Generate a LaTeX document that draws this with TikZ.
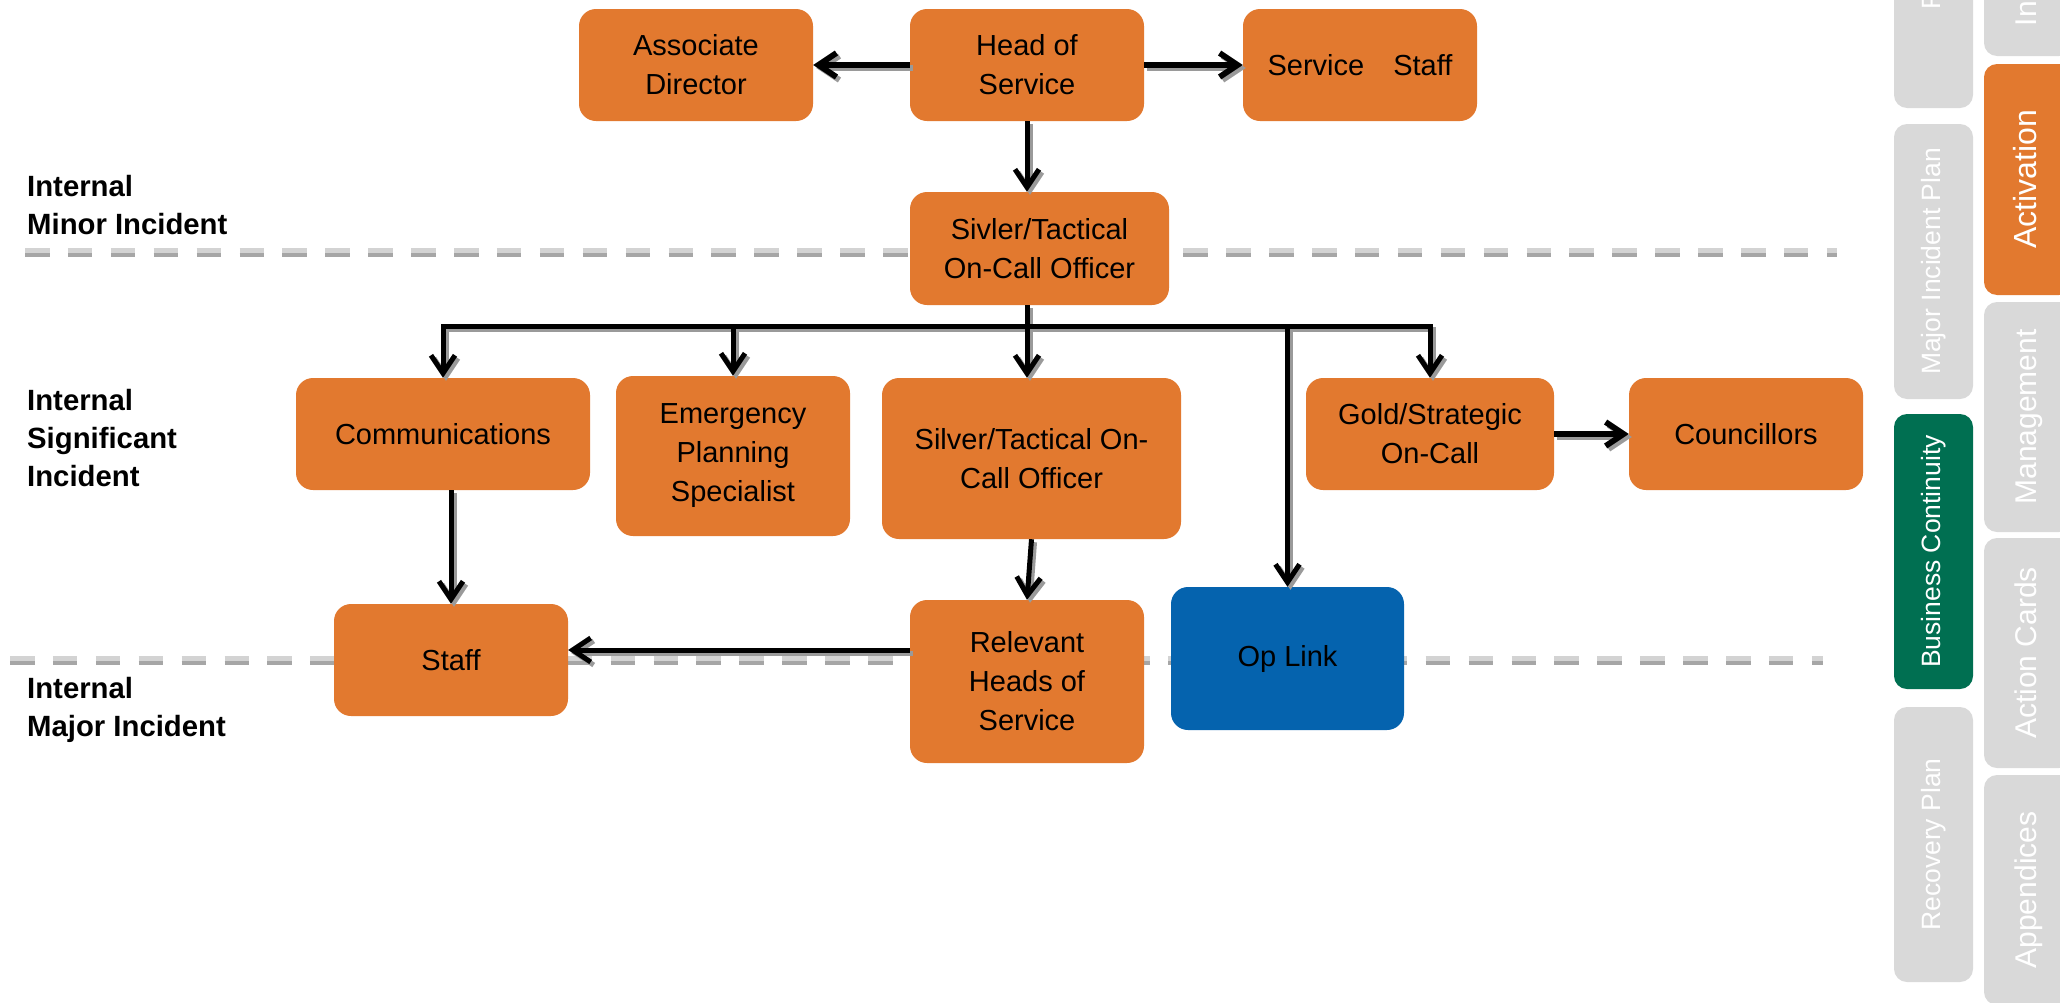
\documentclass[tikz,border=0pt]{standalone}
\usepackage{fontspec}
\setmainfont{Liberation Sans}
\usetikzlibrary{arrows.meta}

\definecolor{boxorange}{HTML}{E2792F}
\definecolor{linkblue}{HTML}{0563AE}
\definecolor{bcgreen}{HTML}{006F51}
\definecolor{tabgray}{HTML}{D9D9D9}
\definecolor{dashlight}{HTML}{D3D3D3}
\definecolor{dashdark}{HTML}{A6A6A6}
\definecolor{shadowgray}{HTML}{9A9A9A}

\begin{document}
\begin{tikzpicture}[x=1pt,y=-1pt,>={Straight Barb[length=18pt,width=24pt]},
  box/.style={rectangle,rounded corners=17pt,fill=boxorange,inner sep=0pt,align=center,
    font=\fontsize{29}{39}\selectfont},
  std/.style={minimum width=234pt,minimum height=112pt},
  level/.style={anchor=north west,inner sep=0pt,align=left,font=\bfseries\fontsize{29.3}{38}\selectfont},
  tab/.style={rectangle,rounded corners=13pt,fill=tabgray,text=white,inner sep=0pt,rotate=90},
  tabnarrow/.style={tab,minimum height=79pt,text height=19pt,text depth=5.5pt,font=\fontsize{26.5}{30}\selectfont},
  tabwide/.style={tab,minimum height=88pt,text height=22pt,text depth=6pt,font=\fontsize{30}{34}\selectfont},
  conn/.style={line width=5pt,->},
  bigconn/.style={conn,line width=5.8pt},
  sepline/.style={line width=4.5pt,dash pattern=on 24.5pt off 18.4pt}]
\useasboundingbox (0,0) rectangle (2060,1002);
\clip (0,0) rectangle (2060,1002);
% ---------- level separators ----------
\draw[sepline,dashlight] (25,250.5) -- (1837,250.5);
\draw[sepline,dashdark] (25,255) -- (1837,255);
\draw[sepline,dashlight] (10,658.5) -- (1823,658.5);
\draw[sepline,dashdark] (10,663) -- (1823,663);
% ---------- level labels ----------
\node[level] (minor) at (27,175) {Internal\\Minor Incident};
\node[level] (signif) at (27,389) {Internal\\Significant\\Incident};
\node[level] (major) at (27,677) {Internal\\Major Incident};
% ---------- boxes ----------
\node[box,std] (head) at (1027,65) {Head of\\Service};
\node[box,std] (assoc) at (696,65) {Associate\\Director};
\node[box,std] (sstaff) at (1360,65) {Service\hspace{1em}Staff};
\node[box,minimum width=259pt,minimum height=113pt] (sivler) at (1039.5,248.5) {Sivler/Tactical\\On-Call Officer};
\node[box,minimum width=294pt,minimum height=112pt] (comm) at (443,434) {Communications};
\node[box,minimum width=234pt,minimum height=160pt] (eps) at (733,456) {Emergency\\Planning\\Specialist};
\node[box,minimum width=299pt,minimum height=161pt] (silver) at (1031.5,458.5) {Silver/Tactical On-\\Call Officer};
\node[box,minimum width=248pt,minimum height=112pt] (gold) at (1430,434) {Gold/Strategic\\On-Call};
\node[box,std] (counc) at (1746,434) {Councillors};
\node[box,std] (staff) at (451,660) {Staff};
\node[box,minimum width=234pt,minimum height=163pt] (rhos) at (1027,681.5) {Relevant\\Heads of\\Service};
\node[box,fill=linkblue,minimum width=233pt,minimum height=143pt] (oplink) at (1287.5,658.5) {Op Link};
% ---------- connectors: grey shadow pass, then black ----------
\foreach \ink/\off in {shadowgray/3pt,black/0pt}{
\begin{scope}[transform canvas={xshift=\off,yshift=-\off},conn/.append style={draw=\ink}]
\draw[bigconn] (head.west) -- (assoc.east);
\draw[bigconn] (head.east) -- (sstaff.west);
\draw[conn] (head.south) -- (head.south |- sivler.north);
% bus under the on-call officer
\coordinate (bus) at (1027,326);
\draw[conn] (bus) -| (comm.north);
\draw[conn] (bus) -| (gold.north);
\draw[conn,-] (head.south |- sivler.south) -- (bus);
\draw[conn] (eps.north |- bus) -- (eps.north);
\draw[conn] (bus) -- (bus |- silver.north);
\draw[conn] (oplink.north |- bus) -- (oplink.north);
\draw[bigconn] (gold.east) -- (counc.west);
\draw[conn] (staff.north |- comm.south) -- (staff.north);
\draw[conn] (silver.south) -- (rhos.north);
\coordinate (staffin) at ([yshift=10pt]staff.east);
\draw[conn] (staffin -| rhos.west) -- (staffin);
\end{scope}
}
% ---------- side tabs ----------
\node[tabnarrow,minimum width=214pt] (tabf) at (1933.5,1) {F};
\node[tabnarrow,minimum width=275pt] (mip) at (1933.5,261.5) {Major Incident Plan};
\node[tabnarrow,minimum width=275pt,fill=bcgreen] (bc) at (1933.5,551.5) {Business Continuity};
\node[tabnarrow,minimum width=275pt] (rp) at (1933.5,844.5) {Recovery Plan};
\node[tabwide,minimum width=85pt] (tabin) at (2028,13.5) {In};
\node[tabwide,minimum width=231pt,fill=boxorange,font=\fontsize{32}{36}\selectfont] (act) at (2028,179.5) {Activation};
\node[tabwide,minimum width=230pt] (mgmt) at (2028,417) {Management};
\node[tabwide,minimum width=230pt] (ac) at (2028,653) {Action Cards};
\node[tabwide,minimum width=230pt] (app) at (2028,890) {Appendices};
\end{tikzpicture}
\end{document}
